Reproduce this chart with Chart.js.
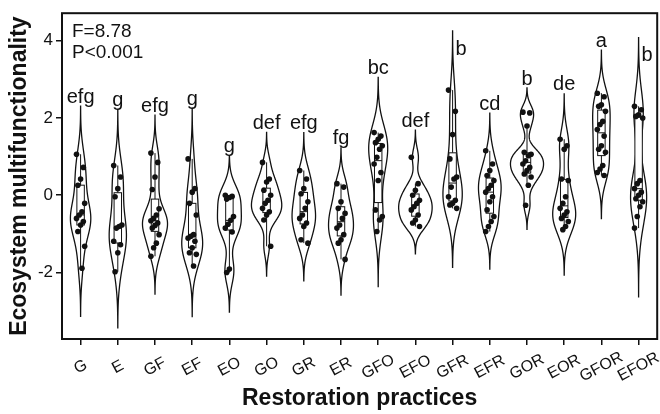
<!DOCTYPE html>
<html>
<head>
<meta charset="utf-8">
<script src="https://cdn.jsdelivr.net/npm/chart.js@4.4.0/dist/chart.umd.min.js"></script>
<style>
    html, body { margin: 0; padding: 0; background: #fff; }
    #wrap { width: 660px; height: 414px; }
</style>
</head>
<body>
<div id="wrap"><canvas id="violinChart" width="660" height="414"></canvas></div>
<script>
const categories = ['G', 'E', 'GF', 'EF', 'EO', 'GO', 'GR', 'ER', 'GFO', 'EFO', 'GFR', 'EFR', 'GOR', 'EOR', 'GFOR', 'EFOR'];
const letters = ['efg', 'g', 'efg', 'g', 'g', 'def', 'efg', 'fg', 'bc', 'def', 'b', 'cd', 'b', 'de', 'a', 'b'];

const valuesG = [1.06, 0.72, 0.42, 0.26, -0.21, -0.43, -0.51, -0.60, -0.68, -0.77, -0.94, -1.32, -1.89];
const valuesE = [0.77, 0.47, 0.17, -0.04, -0.77, -0.81, -0.85, -1.19, -1.28, -1.49, -1.98];
const valuesGF = [1.09, 0.85, 0.47, 0.15, -0.35, -0.51, -0.60, -0.66, -0.72, -0.78, -0.85, -1.02, -1.24, -1.36, -1.58];
const valuesEF = [0.94, 0.17, 0.08, -0.21, -0.51, -1.02, -1.06, -1.11, -1.19, -1.36, -1.49, -1.53, -1.83];
const valuesEO = [0.00, -0.03, -0.06, -0.10, -0.55, -0.65, -0.75, -0.85, -0.95, -1.91, -2.00];
const valuesGO = [0.85, 0.42, 0.34, 0.13, 0.00, -0.13, -0.21, -0.34, -0.43, -0.51, -0.64, -1.32];
const valuesGR = [0.64, 0.42, 0.17, 0.04, -0.17, -0.34, -0.51, -0.60, -0.72, -0.81, -1.15, -1.24];
const valuesER = [0.30, 0.21, -0.17, -0.34, -0.47, -0.60, -0.77, -0.85, -1.02, -1.15, -1.24, -1.66];
const valuesGFO = [1.62, 1.53, 1.45, 1.36, 1.28, 1.19, 0.98, 0.81, 0.59, 0.38, -0.38, -0.55, -0.64, -0.94];
const valuesEFO = [0.98, 0.30, 0.13, 0.00, -0.13, -0.21, -0.30, -0.38, -0.51, -0.64, -0.72, -0.81];
const valuesGFR = [2.72, 2.17, 1.57, 0.94, 0.47, 0.42, 0.21, -0.04, -0.13, -0.21, -0.25, -0.34];
const valuesEFR = [1.15, 0.81, 0.64, 0.51, 0.38, 0.26, 0.17, 0.08, -0.04, -0.17, -0.38, -0.55, -0.68, -0.81, -0.94];
const valuesGOR = [2.15, 2.13, 1.79, 1.11, 1.06, 1.02, 0.89, 0.81, 0.72, 0.64, 0.55, 0.47, 0.26, -0.26];
const valuesEOR = [1.45, 1.28, 1.19, 0.42, 0.38, -0.04, -0.21, -0.34, -0.43, -0.51, -0.60, -0.68, -0.81, -0.89];
const valuesGFOR = [2.64, 2.55, 2.34, 2.30, 2.17, 1.91, 1.83, 1.70, 1.53, 1.28, 1.19, 1.11, 0.77, 0.68, 0.59, 0.51];
const valuesEFOR = [2.30, 2.21, 2.08, 2.04, 2.00, 0.38, 0.30, 0.17, 0.08, 0.00, -0.09, -0.17, -0.30, -0.55, -0.85];

const groups = [valuesG, valuesE, valuesGF, valuesEF, valuesEO, valuesGO, valuesGR, valuesER,
    valuesGFO, valuesEFO, valuesGFR, valuesEFR, valuesGOR, valuesEOR, valuesGFOR, valuesEFOR];

const yTicks = [-2, 0, 2, 4];
const statLines = ['F=8.78', 'P<0.001'];
const xTitle = 'Restoration practices';
const yTitle = 'Ecosystem multifunctionality';

const FONT = "'Liberation Sans', Arial, sans-serif";
const INK = '#111';

function quantile(sorted, p) {
    const h = (sorted.length - 1) * p;
    const lo = Math.floor(h);
    const hi = Math.min(lo + 1, sorted.length - 1);
    return sorted[lo] + (h - lo) * (sorted[hi] - sorted[lo]);
}

function stdDev(arr) {
    const m = arr.reduce((a, b) => a + b, 0) / arr.length;
    const ss = arr.reduce((a, b) => a + (b - m) * (b - m), 0);
    return Math.sqrt(ss / (arr.length - 1));
}

// gaussian kde like R density(): bw.nrd0, 512 steps, cut = 3
const violins = groups.map(function (vals) {
    const s = vals.slice().sort((a, b) => a - b);
    const n = s.length;
    const q1 = quantile(s, 0.25);
    const q3 = quantile(s, 0.75);
    const med = quantile(s, 0.5);
    const iqr = q3 - q1;
    const spread = Math.min(stdDev(s), iqr / 1.34) || stdDev(s);
    const bw = 0.9 * spread * Math.pow(n, -0.2);
    const lo = s[0] - 3 * bw;
    const hi = s[n - 1] + 3 * bw;
    const dens = [];
    for (let k = 0; k < 512; k++) {
        const y = lo + (hi - lo) * k / 511;
        let d = 0;
        s.forEach(function (v) {
            const z = (y - v) / bw;
            d += Math.exp(-0.5 * z * z);
        });
        dens.push({ y: y, d: d / (n * bw * Math.sqrt(2 * Math.PI)) });
    }
    const inLo = s.filter(v => v >= q1 - 1.5 * iqr);
    const inHi = s.filter(v => v <= q3 + 1.5 * iqr);
    return {
        dens: dens, q1: q1, q3: q3, med: med,
        whiskLo: inLo[0], whiskHi: inHi[inHi.length - 1],
        top: hi, bottom: lo
    };
});
const maxDensity = Math.max.apply(null, violins.map(v => Math.max.apply(null, v.dens.map(g => g.d))));

// fixed, repeatable spread of points around the centre of each category
const points = [];
groups.forEach(function (vals, i) {
    vals.forEach(function (v, j) {
        const jit = (((j * 5) % 7) - 3) / 3 * 0.11;
        points.push({ x: i + jit, y: v });
    });
});

const violinPlugin = {
    id: 'violins',
    beforeDatasetsDraw: function (chart) {
        const ctx = chart.ctx;
        const xs = chart.scales.x;
        const ys = chart.scales.y;
        const area = chart.chartArea;
        const unit = xs.getPixelForValue(1) - xs.getPixelForValue(0);
        const half = 0.45 * unit;
        const boxHalf = 0.1 * unit;

        ctx.save();
        ctx.beginPath();
        ctx.rect(area.left, area.top, area.right - area.left, area.bottom - area.top);
        ctx.clip();
        ctx.strokeStyle = INK;

        violins.forEach(function (v, i) {
            const cx = xs.getPixelForValue(i);
            ctx.beginPath();
            v.dens.forEach(function (g, k) {
                const px = cx - g.d / maxDensity * half;
                const py = ys.getPixelForValue(g.y);
                if (k === 0) ctx.moveTo(px, py); else ctx.lineTo(px, py);
            });
            for (let k = v.dens.length - 1; k >= 0; k--) {
                const g = v.dens[k];
                ctx.lineTo(cx + g.d / maxDensity * half, ys.getPixelForValue(g.y));
            }
            ctx.closePath();
            ctx.fillStyle = '#fff';
            ctx.fill();
            ctx.lineWidth = 1.3;
            ctx.stroke();

            // box plot
            ctx.lineWidth = 1;
            ctx.beginPath();
            ctx.moveTo(cx, ys.getPixelForValue(v.whiskHi));
            ctx.lineTo(cx, ys.getPixelForValue(v.q3));
            ctx.moveTo(cx, ys.getPixelForValue(v.q1));
            ctx.lineTo(cx, ys.getPixelForValue(v.whiskLo));
            ctx.stroke();
            const yTop = ys.getPixelForValue(v.q3);
            const yBot = ys.getPixelForValue(v.q1);
            ctx.fillStyle = '#fff';
            ctx.fillRect(cx - boxHalf, yTop, boxHalf * 2, yBot - yTop);
            ctx.strokeRect(cx - boxHalf, yTop, boxHalf * 2, yBot - yTop);
            ctx.beginPath();
            ctx.moveTo(cx - boxHalf, ys.getPixelForValue(v.med));
            ctx.lineTo(cx + boxHalf, ys.getPixelForValue(v.med));
            ctx.stroke();
        });
        ctx.restore();
    },
    afterDraw: function (chart) {
        const ctx = chart.ctx;
        const xs = chart.scales.x;
        const ys = chart.scales.y;
        const area = chart.chartArea;

        ctx.save();
        // frame
        ctx.strokeStyle = INK;
        ctx.lineWidth = 2;
        ctx.strokeRect(area.left, area.top, area.right - area.left, area.bottom - area.top);

        // rotated category labels, centred under each tick
        ctx.fillStyle = INK;
        ctx.font = '16px ' + FONT;
        ctx.textAlign = 'center';
        ctx.textBaseline = 'middle';
        categories.forEach(function (c, i) {
            ctx.save();
            ctx.translate(xs.getPixelForValue(i), area.bottom + 28);
            ctx.rotate(-28 * Math.PI / 180);
            ctx.fillText(c, 0, 0);
            ctx.restore();
        });

        // significance letters above each violin
        ctx.font = '20px ' + FONT;
        violins.forEach(function (v, i) {
            const cx = xs.getPixelForValue(i);
            const topPx = ys.getPixelForValue(v.top);
            if (topPx - 30 < area.top) {
                ctx.textAlign = 'left';
                ctx.textBaseline = 'middle';
                ctx.fillText(letters[i], cx + 3, Math.max(topPx, area.top) + 18);
            } else {
                ctx.textAlign = 'center';
                ctx.textBaseline = 'bottom';
                ctx.fillText(letters[i], cx, topPx + 1);
            }
        });

        // test statistics
        ctx.font = '19px ' + FONT;
        ctx.textAlign = 'left';
        ctx.textBaseline = 'alphabetic';
        statLines.forEach(function (t, k) {
            ctx.fillText(t, area.left + 10, area.top + 24 + k * 21);
        });
        ctx.restore();
    }
};

const chart = new Chart(document.getElementById('violinChart'), {
    type: 'scatter',
    data: {
        datasets: [{
            data: points,
            backgroundColor: INK,
            borderWidth: 0,
            pointRadius: 2.8,
            pointHoverRadius: 2.8
        }]
    },
    options: {
        responsive: false,
        animation: false,
        layout: { padding: { top: 9, right: 2, left: 0, bottom: 0 } },
        plugins: {
            legend: { display: false },
            tooltip: { enabled: false }
        },
        scales: {
            x: {
                type: 'linear',
                min: -0.5,
                max: categories.length - 0.5,
                afterBuildTicks: function (axis) {
                    axis.ticks = categories.map((c, i) => ({ value: i }));
                },
                afterFit: function (axis) { axis.height = 75; },
                ticks: { display: false },
                grid: { drawOnChartArea: false, drawTicks: true, tickLength: 6, color: INK, lineWidth: 1.5 },
                border: { display: false },
                title: {
                    display: true,
                    text: xTitle,
                    color: INK,
                    font: { family: FONT, size: 23, weight: 'bold' },
                    padding: { top: 0, bottom: 2 }
                }
            },
            y: {
                min: -3.72,
                max: 4.71,
                afterBuildTicks: function (axis) {
                    axis.ticks = yTicks.map(v => ({ value: v }));
                },
                afterFit: function (axis) { axis.width = 62; },
                ticks: {
                    color: INK,
                    padding: 3,
                    font: { family: FONT, size: 17 }
                },
                grid: { drawOnChartArea: false, drawTicks: true, tickLength: 6, color: INK, lineWidth: 1.5 },
                border: { display: false },
                title: {
                    display: true,
                    text: yTitle,
                    color: INK,
                    font: { family: FONT, size: 23, weight: 'bold' },
                    padding: { top: 6, bottom: 0 }
                }
            }
        }
    },
    plugins: [violinPlugin]
});
</script>
</body>
</html>
